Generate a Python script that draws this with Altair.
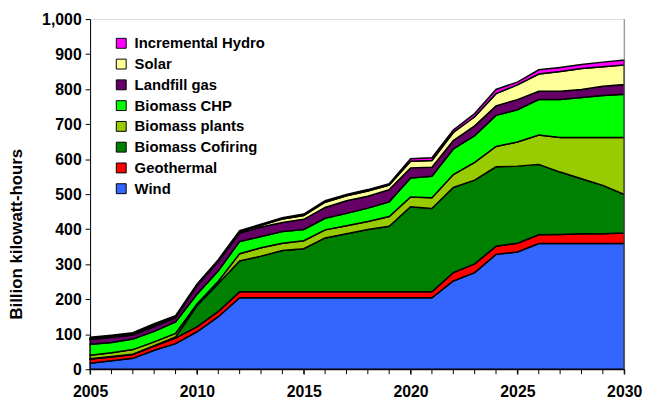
import altair as alt
import pandas as pd

years = list(range(2005, 2031))
label_years = [2005, 2010, 2015, 2020, 2025, 2030]

series_names = ["Wind", "Geothermal", "Biomass Cofiring", "Biomass plants",
                "Biomass CHP", "Landfill gas", "Solar", "Incremental Hydro"]
series_colors = ["#3366FF", "#FF0000", "#008000", "#99CC00",
                 "#00FF00", "#660066", "#FFFF99", "#FF00FF"]

wind = [17, 24, 31, 54, 73, 107, 150, 204, 204, 204, 204, 204, 204, 204, 204, 204, 204,
        252, 276, 328, 335, 359, 359, 359, 359, 359]
geothermal = [12, 11, 11, 12, 16, 14, 15, 17, 17, 17, 17, 17, 17, 17, 17, 17, 17,
              24, 25, 23, 25, 25, 26, 28, 28, 30]
cofiring = [1, 1, 1, 1, 3, 60, 80, 88, 102, 118, 123, 154, 166, 178, 187, 243, 238,
            243, 239, 227, 220, 201, 178, 157, 138, 110]
plants = [10, 11, 13, 11, 10, 5, 6, 21, 24, 21, 23, 23, 23, 23, 28, 28, 31,
          37, 51, 58, 69, 84, 99, 118, 137, 163]
chp = [31, 29, 30, 30, 33, 28, 30, 35, 32, 33, 32, 33, 35, 38, 42, 54, 61,
       73, 76, 89, 92, 101, 108, 114, 120, 123]
landfill = [14, 15, 12, 14, 12, 24, 27, 24, 27, 26, 29, 31, 36, 34, 35, 29, 26,
            24, 28, 27, 29, 24, 24, 23, 26, 28]
solar = [3, 3, 3, 4, 3, 2, 2, 4, 5, 10, 11, 15, 14, 15, 13, 19, 19,
         23, 26, 35, 42, 49, 56, 60, 56, 56]
hydro = [3, 3, 3, 4, 3, 3, 3, 3, 3, 4, 4, 4, 4, 4, 4, 7, 8,
         7, 9, 12, 8, 12, 12, 11, 13, 14]

series_values = [wind, geothermal, cofiring, plants, chp, landfill, solar, hydro]

rows = []
for idx, (name, vals) in enumerate(zip(series_names, series_values)):
    for yr, v in zip(years, vals):
        rows.append({"Year": yr, "Source": name, "Value": v, "Order": idx})
df = pd.DataFrame(rows)

legend_order = list(reversed(series_names))
legend_colors = list(reversed(series_colors))

font = "Liberation Sans"
xscale = alt.Scale(domain=[2005, 2030], nice=False, zero=False)

area = alt.Chart(df).mark_area(stroke="black", strokeWidth=1.5, strokeJoin="miter").encode(
    x=alt.X("Year:Q", scale=xscale,
            axis=alt.Axis(values=label_years, format="d",
                          title=None, grid=False, tickSize=5, labelPadding=10,
                          labelFont=font, labelFontSize=16, labelFontWeight="bold",
                          labelColor="black", domainColor="black", tickColor="black",
                          labelFlush=False, labelOverlap=False)),
    y=alt.Y("Value:Q", stack="zero",
            scale=alt.Scale(domain=[0, 1000], nice=False),
            axis=alt.Axis(values=list(range(0, 1001, 100)), format=",d",
                          title="Billion kilowatt-hours", grid=False, tickSize=5,
                          labelPadding=4, labelFont=font, labelFontSize=16,
                          labelFontWeight="bold", labelColor="black",
                          domainColor="black", tickColor="black",
                          titleFont=font, titleFontSize=17, titleFontWeight="bold",
                          titleColor="black", titleAngle=270, titleX=-69, titleY=217,
                          titleAlign="center", titleBaseline="alphabetic")),
    color=alt.Color("Source:N",
                    scale=alt.Scale(domain=legend_order, range=legend_colors),
                    legend=alt.Legend(title=None, orient="none", legendX=24, legendY=17,
                                      symbolType="square", symbolSize=100,
                                      symbolStrokeColor="black", symbolStrokeWidth=1,
                                      symbolOpacity=1, labelFont=font, labelFontSize=15,
                                      labelFontWeight="bold", labelColor="black",
                                      rowPadding=5, labelOffset=6, padding=0)),
    order=alt.Order("Order:Q", sort="ascending"),
)

minor_ticks = alt.Chart(pd.DataFrame({"Year": years})).mark_rule(
    color="black", strokeWidth=1
).encode(
    x=alt.X("Year:Q", scale=xscale), y=alt.value(354), y2=alt.value(359)
)

border = alt.Chart(pd.DataFrame({"x": [2030]})).mark_rule(color="#808080", strokeWidth=1).encode(
    x=alt.X("x:Q", scale=xscale), y=alt.value(0), y2=alt.value(354)
)

chart = alt.layer(area, minor_ticks, border).properties(
    width=540, height=354,
    autosize=alt.AutoSizeParams(type="none"),
    padding={"left": 83, "top": 9, "right": 20, "bottom": 35},
).configure_view(stroke=None).configure(background="white")

chart.save("out.html", embed_options={"renderer": "svg", "actions": False})
